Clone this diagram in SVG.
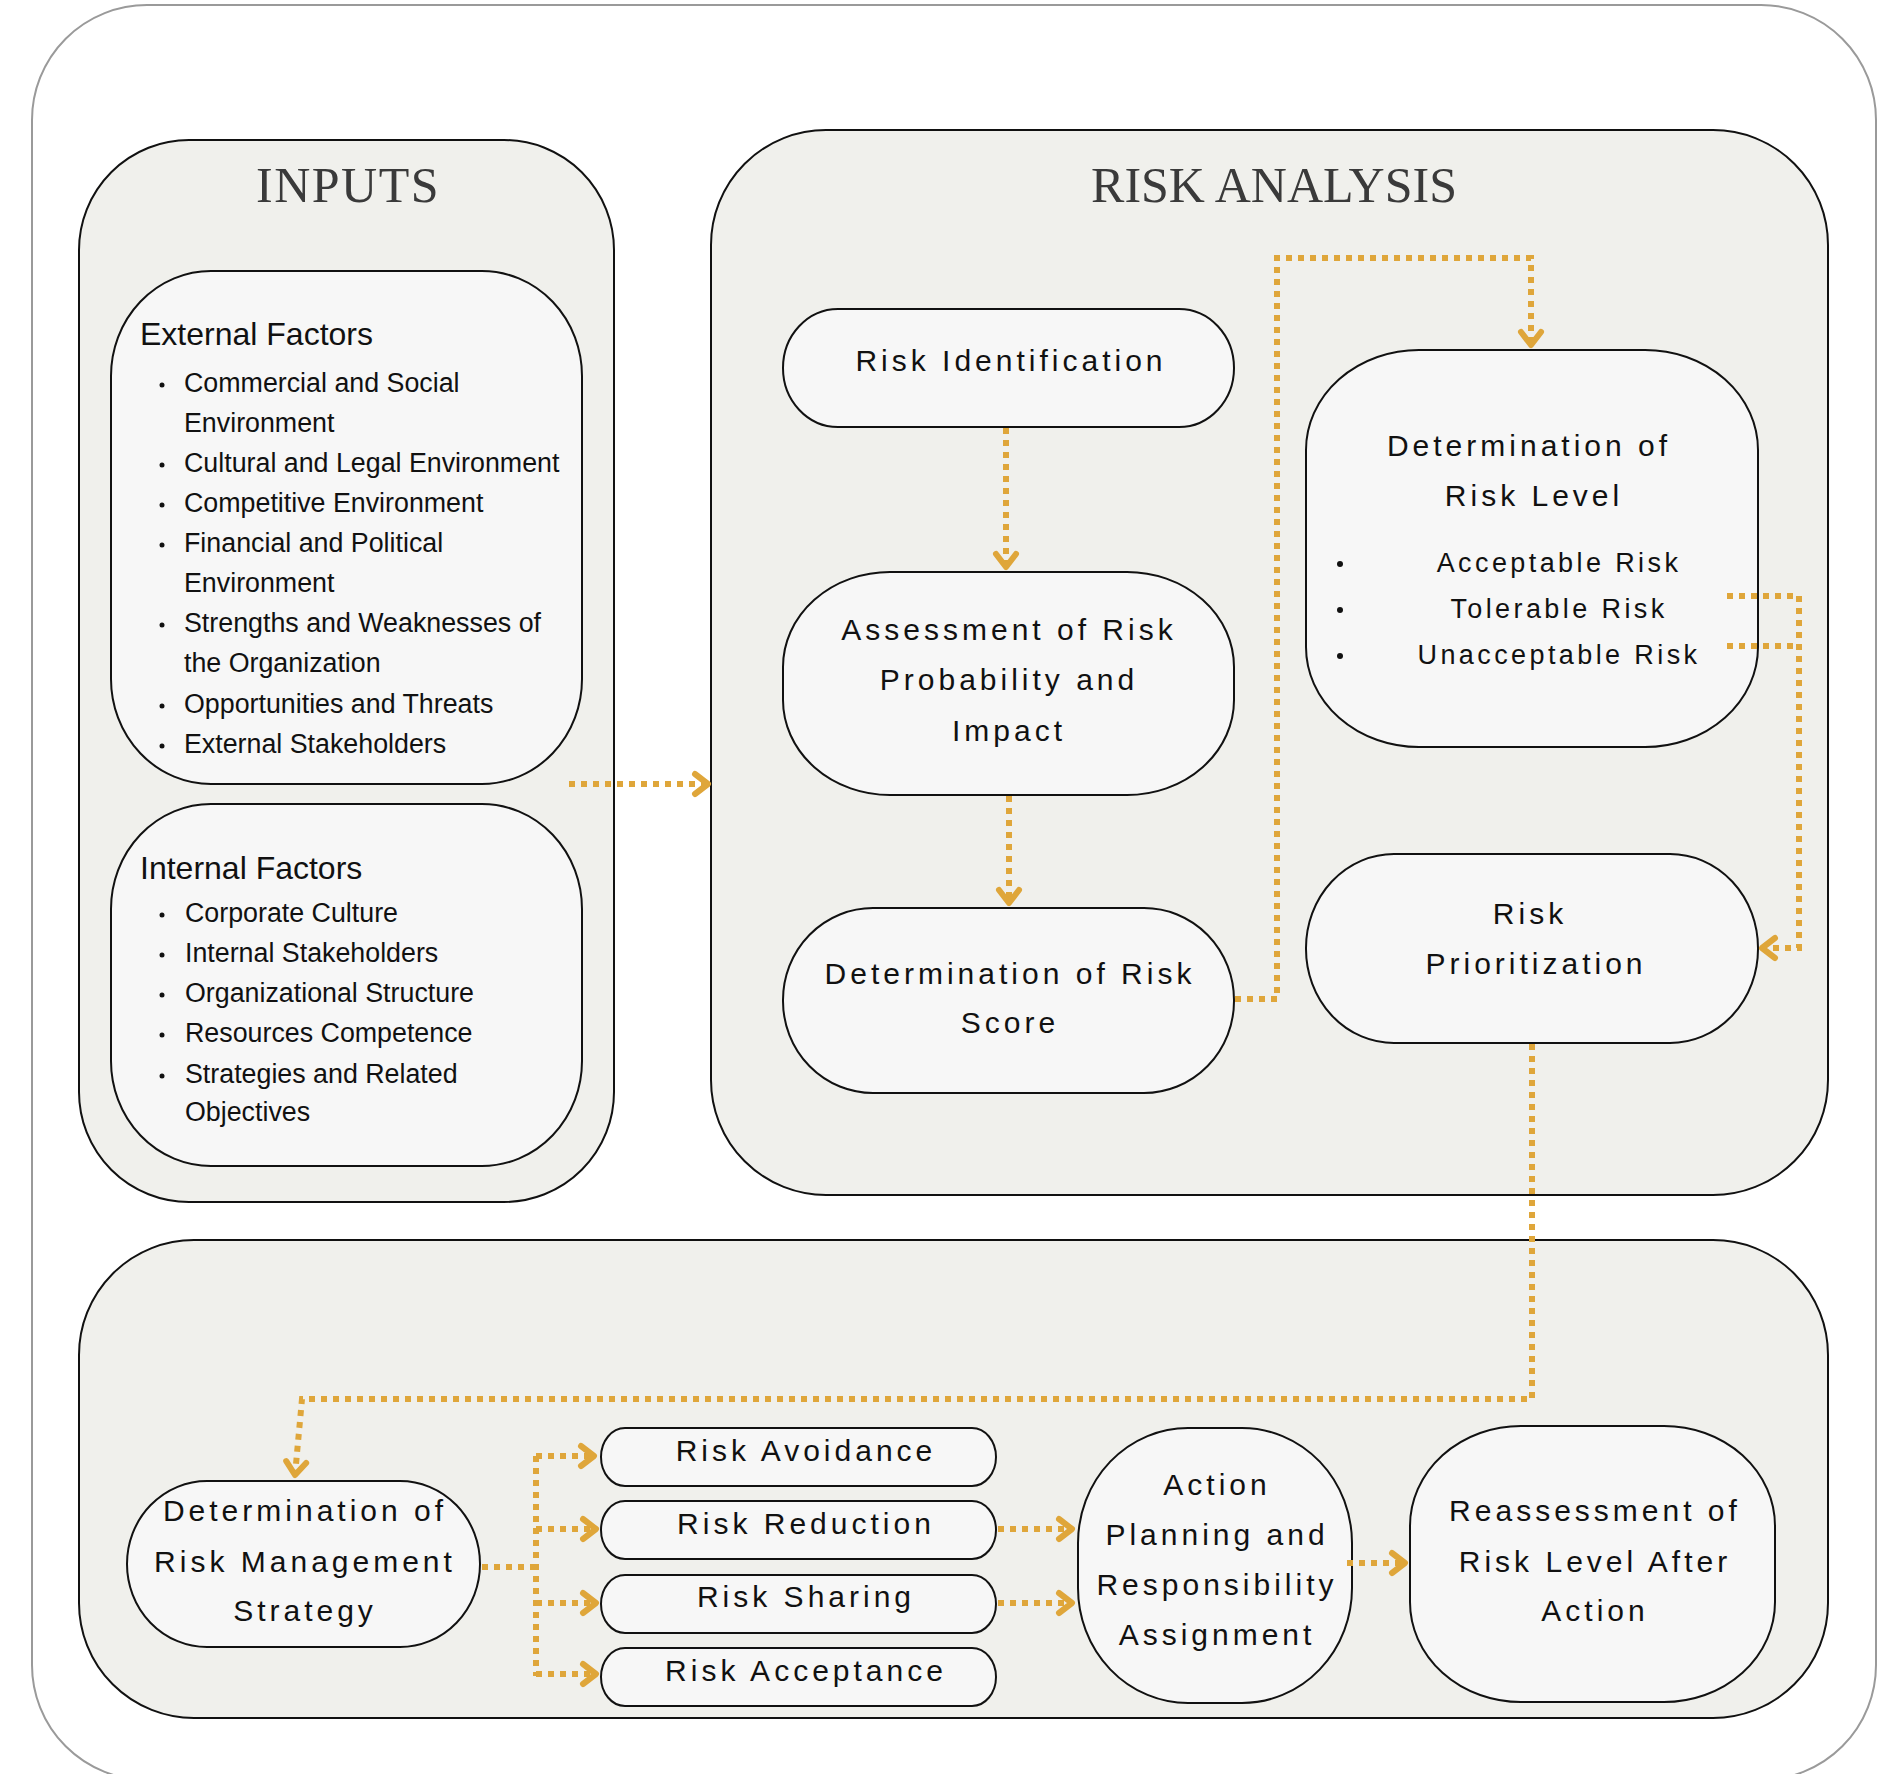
<svg xmlns="http://www.w3.org/2000/svg" width="1883" height="1774" viewBox="0 0 1883 1774">
<style>
.frame{fill:#ffffff;stroke:#9a9a9a;stroke-width:2}
.cont{fill:#f0f0ec;stroke:#111;stroke-width:2}
.node{fill:#f7f7f7;stroke:#111;stroke-width:2}
.title{font-family:"Liberation Serif",serif;font-size:50px;fill:#3a3a3a;text-anchor:middle}
.head{font-family:"Liberation Sans",Arial,sans-serif;font-size:32px;fill:#111}
.li{font-family:"Liberation Sans",Arial,sans-serif;font-size:26.8px;fill:#111}
.nt{font-family:"Liberation Sans",Arial,sans-serif;font-size:30px;letter-spacing:4px;fill:#111;text-anchor:middle}
.nts{font-family:"Liberation Sans",Arial,sans-serif;font-size:27px;letter-spacing:3.4px;fill:#111;text-anchor:middle}
.dot{fill:#111}
.con{fill:none;stroke:#dfa63a;stroke-width:6;stroke-dasharray:6 6}
</style>
<defs>
<marker id="arr" markerUnits="userSpaceOnUse" viewBox="-20 -20 40 40" markerWidth="40" markerHeight="40" refX="0" refY="0" orient="auto" overflow="visible">
<path d="M -13 -10 L 0 0 L -13 10" fill="none" stroke="#dfa63a" stroke-width="6" stroke-linecap="round" stroke-linejoin="round"/>
</marker>
</defs>
<rect class="frame" x="32" y="5" width="1844" height="1775" rx="115" ry="115"/>

<g id="inputs">
<rect class="cont" x="79" y="140" width="535" height="1062" rx="110" ry="110"/>
<text class="title" x="348" y="202" letter-spacing="1.5">INPUTS</text>
</g>

<g id="risk-analysis">
<rect class="cont" x="711" y="130" width="1117" height="1065" rx="115" ry="115"/>
<text class="title" x="1274" y="202">RISK ANALYSIS</text>
</g>

<g id="risk-treatment">
<rect class="cont" x="79" y="1240" width="1749" height="478" rx="115" ry="115"/>
</g>

<g id="external-factors">
<rect class="node" x="111" y="271" width="471" height="513" rx="100" ry="105"/>
<text class="head" x="140" y="345">External Factors</text>
<circle class="dot" cx="162" cy="385" r="2.5"/>
<text class="li" x="184" y="392">Commercial and Social</text>
<text class="li" x="184" y="432">Environment</text>
<circle class="dot" cx="162" cy="465" r="2.5"/>
<text class="li" x="184" y="472">Cultural and Legal Environment</text>
<circle class="dot" cx="162" cy="505" r="2.5"/>
<text class="li" x="184" y="512">Competitive Environment</text>
<circle class="dot" cx="162" cy="545" r="2.5"/>
<text class="li" x="184" y="552">Financial and Political</text>
<text class="li" x="184" y="592">Environment</text>
<circle class="dot" cx="162" cy="625" r="2.5"/>
<text class="li" x="184" y="632">Strengths and Weaknesses of</text>
<text class="li" x="184" y="672">the Organization</text>
<circle class="dot" cx="162" cy="706" r="2.5"/>
<text class="li" x="184" y="713">Opportunities and Threats</text>
<circle class="dot" cx="162" cy="746" r="2.5"/>
<text class="li" x="184" y="753">External Stakeholders</text>
</g>

<g id="internal-factors">
<rect class="node" x="111" y="804" width="471" height="362" rx="100" ry="105"/>
<text class="head" x="140" y="879">Internal Factors</text>
<circle class="dot" cx="162" cy="915" r="2.5"/>
<text class="li" x="185" y="922">Corporate Culture</text>
<circle class="dot" cx="162" cy="955" r="2.5"/>
<text class="li" x="185" y="962">Internal Stakeholders</text>
<circle class="dot" cx="162" cy="995" r="2.5"/>
<text class="li" x="185" y="1002">Organizational Structure</text>
<circle class="dot" cx="162" cy="1035" r="2.5"/>
<text class="li" x="185" y="1042">Resources Competence</text>
<circle class="dot" cx="162" cy="1076" r="2.5"/>
<text class="li" x="185" y="1083">Strategies and Related</text>
<text class="li" x="185" y="1121">Objectives</text>
</g>

<g id="risk-identification">
<rect class="node" x="783" y="309" width="451" height="118" rx="55" ry="59"/>
<text class="nt" x="1011" y="371">Risk Identification</text>
</g>

<g id="assessment">
<rect class="node" x="783" y="572" width="451" height="223" rx="107" ry="95"/>
<text class="nt" x="1009" y="640">Assessment of Risk</text>
<text class="nt" x="1009" y="690">Probability and</text>
<text class="nt" x="1009" y="741">Impact</text>
</g>

<g id="risk-score">
<rect class="node" x="783" y="908" width="451" height="185" rx="90" ry="92"/>
<text class="nt" x="1010" y="984">Determination of Risk</text>
<text class="nt" x="1010" y="1033">Score</text>
</g>

<g id="risk-level">
<rect class="node" x="1306" y="350" width="452" height="397" rx="113" ry="100"/>
<text class="nt" x="1529" y="456">Determination of</text>
<text class="nt" x="1534" y="506">Risk Level</text>
<circle class="dot" cx="1340" cy="564" r="3"/>
<text class="nts" x="1559" y="572">Acceptable Risk</text>
<circle class="dot" cx="1340" cy="610" r="3"/>
<text class="nts" x="1559" y="618">Tolerable Risk</text>
<circle class="dot" cx="1340" cy="656" r="3"/>
<text class="nts" x="1559" y="664">Unacceptable Risk</text>
</g>

<g id="risk-prioritization">
<rect class="node" x="1306" y="854" width="452" height="189" rx="88" ry="94"/>
<text class="nt" x="1530" y="924">Risk</text>
<text class="nt" x="1536" y="974">Prioritization</text>
</g>

<g id="strategy">
<rect class="node" x="127" y="1481" width="353" height="166" rx="80" ry="83"/>
<text class="nt" x="305" y="1521">Determination of</text>
<text class="nt" x="305" y="1572">Risk Management</text>
<text class="nt" x="305" y="1621">Strategy</text>
</g>

<g id="risk-avoidance">
<rect class="node" x="601" y="1428" width="395" height="58" rx="24" ry="29"/>
<text class="nt" x="806" y="1461">Risk Avoidance</text>
</g>
<g id="risk-reduction">
<rect class="node" x="601" y="1501" width="395" height="58" rx="24" ry="29"/>
<text class="nt" x="806" y="1534">Risk Reduction</text>
</g>
<g id="risk-sharing">
<rect class="node" x="601" y="1575" width="395" height="58" rx="24" ry="29"/>
<text class="nt" x="806" y="1607">Risk Sharing</text>
</g>
<g id="risk-acceptance">
<rect class="node" x="601" y="1648" width="395" height="58" rx="24" ry="29"/>
<text class="nt" x="806" y="1681">Risk Acceptance</text>
</g>

<g id="action-planning">
<rect class="node" x="1078" y="1428" width="274" height="275" rx="110" ry="115"/>
<text class="nt" x="1217" y="1495">Action</text>
<text class="nt" x="1217" y="1545">Planning and</text>
<text class="nt" x="1217" y="1595">Responsibility</text>
<text class="nt" x="1217" y="1645">Assignment</text>
</g>

<g id="reassessment">
<rect class="node" x="1410" y="1426" width="365" height="276" rx="111" ry="100"/>
<text class="nt" x="1595" y="1521">Reassessment of</text>
<text class="nt" x="1595" y="1572">Risk Level After</text>
<text class="nt" x="1595" y="1621">Action</text>
</g>

<g id="connectors">
<path class="con" d="M 569 784 H 708" marker-end="url(#arr)"/>
<path class="con" d="M 1006 428 V 567" marker-end="url(#arr)"/>
<path class="con" d="M 1009 796 V 903" marker-end="url(#arr)"/>
<path class="con" d="M 1235 999 H 1277 V 258 H 1531 V 345" marker-end="url(#arr)"/>
<path class="con" d="M 1727 596 H 1799"/>
<path class="con" d="M 1727 646 H 1799"/>
<path class="con" d="M 1799 596 V 948 H 1762" marker-end="url(#arr)"/>
<path class="con" d="M 1532 1044 V 1399 H 302 L 295 1475" marker-end="url(#arr)"/>
<path class="con" d="M 482 1567 H 536"/>
<path class="con" d="M 536 1456 V 1676"/>
<path class="con" d="M 536 1456 H 594" marker-end="url(#arr)"/>
<path class="con" d="M 536 1529 H 596" marker-end="url(#arr)"/>
<path class="con" d="M 536 1603 H 596" marker-end="url(#arr)"/>
<path class="con" d="M 536 1674 H 596" marker-end="url(#arr)"/>
<path class="con" d="M 998 1529 H 1072" marker-end="url(#arr)"/>
<path class="con" d="M 998 1603 H 1072" marker-end="url(#arr)"/>
<path class="con" d="M 1347 1563 H 1405" marker-end="url(#arr)"/>
</g>
</svg>
